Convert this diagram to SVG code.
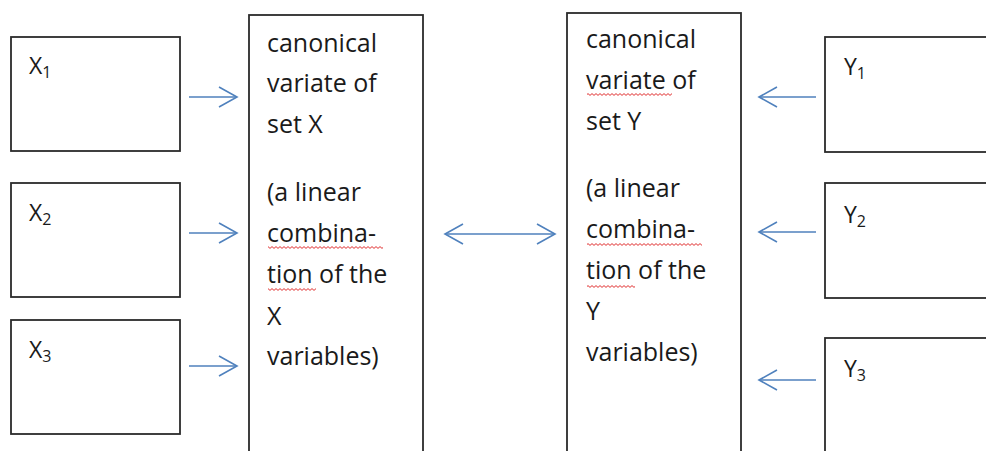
<svg xmlns="http://www.w3.org/2000/svg" width="986" height="451" viewBox="0 0 986 451">
<style>
.box{fill:#fff;stroke:#2b2b2b;stroke-width:1.8}
.t{font-family:"Open Sans","Liberation Sans",Arial,sans-serif;font-size:25px;fill:#1a1a1a}
.lbl{font-family:"Open Sans","Liberation Sans",Arial,sans-serif;font-size:23px;fill:#1a1a1a}
.sub{font-size:16px}
.conn{stroke:#4f81bd;stroke-width:1.6;fill:none}
</style>
<defs>
<marker id="head" viewBox="-20 -12 22 24" markerWidth="22" markerHeight="24" refX="0" refY="0" orient="auto-start-reverse" markerUnits="userSpaceOnUse">
<path d="M-18 -10 L0 0 L-18 10" fill="none" stroke="#4f81bd" stroke-width="1.6"/>
</marker>
<pattern id="sq" patternUnits="userSpaceOnUse" width="4" height="3">
<path d="M0 0.6 L2 2.4 L4 0.6" fill="none" stroke="#e03030" stroke-width="1"/>
</pattern>
</defs>
<rect width="986" height="451" fill="#fff"/>

<g id="x1"><rect class="box" x="11" y="37" width="169" height="114"/><text class="lbl" x="29" y="74">X<tspan class="sub" dy="4">1</tspan></text></g>
<g id="x2"><rect class="box" x="11" y="183" width="169" height="114"/><text class="lbl" x="29" y="221">X<tspan class="sub" dy="4">2</tspan></text></g>
<g id="x3"><rect class="box" x="11" y="320" width="169" height="114"/><text class="lbl" x="29" y="358">X<tspan class="sub" dy="4">3</tspan></text></g>

<g id="cvx">
<rect class="box" x="249" y="15" width="174" height="450"/>
<text class="t" x="267" y="52">canonical</text>
<text class="t" x="267" y="92">variate of</text>
<text class="t" x="267" y="133">set X</text>
<text class="t" x="267" y="201">(a linear</text>
<text class="t" x="267" y="242">combina-</text>
<text class="t" x="267" y="283">tion of the</text>
<text class="t" x="267" y="325">X</text>
<text class="t" x="267" y="365">variables)</text>
<rect x="268" y="246" width="115" height="3" fill="url(#sq)"/>
<rect x="268" y="288" width="48" height="3" fill="url(#sq)"/>
</g>

<g id="cvy">
<rect class="box" x="567" y="13" width="174" height="452"/>
<text class="t" x="586" y="48">canonical</text>
<text class="t" x="586" y="89">variate of</text>
<text class="t" x="586" y="130">set Y</text>
<text class="t" x="586" y="197">(a linear</text>
<text class="t" x="586" y="238">combina-</text>
<text class="t" x="586" y="279">tion of the</text>
<text class="t" x="586" y="320">Y</text>
<text class="t" x="586" y="361">variables)</text>
<rect x="587" y="93" width="85" height="3" fill="url(#sq)"/>
<rect x="587" y="243" width="115" height="3" fill="url(#sq)"/>
<rect x="587" y="285" width="48" height="3" fill="url(#sq)"/>
</g>

<g id="y1"><rect class="box" x="825" y="37" width="180" height="115"/><text class="lbl" x="844" y="75">Y<tspan class="sub" dy="4">1</tspan></text></g>
<g id="y2"><rect class="box" x="825" y="183" width="180" height="115"/><text class="lbl" x="844" y="223">Y<tspan class="sub" dy="4">2</tspan></text></g>
<g id="y3"><rect class="box" x="825" y="338" width="180" height="130"/><text class="lbl" x="844" y="377">Y<tspan class="sub" dy="4">3</tspan></text></g>

<g id="connectors">
<line class="conn" x1="189" y1="97" x2="237" y2="97" marker-end="url(#head)"/>
<line class="conn" x1="189" y1="233" x2="237" y2="233" marker-end="url(#head)"/>
<line class="conn" x1="189" y1="366" x2="237" y2="366" marker-end="url(#head)"/>
<line class="conn" x1="816" y1="97" x2="759" y2="97" marker-end="url(#head)"/>
<line class="conn" x1="816" y1="232" x2="759" y2="232" marker-end="url(#head)"/>
<line class="conn" x1="816" y1="380" x2="759" y2="380" marker-end="url(#head)"/>
<line class="conn" x1="445" y1="234" x2="555" y2="234" marker-start="url(#head)" marker-end="url(#head)"/>
</g>
</svg>
